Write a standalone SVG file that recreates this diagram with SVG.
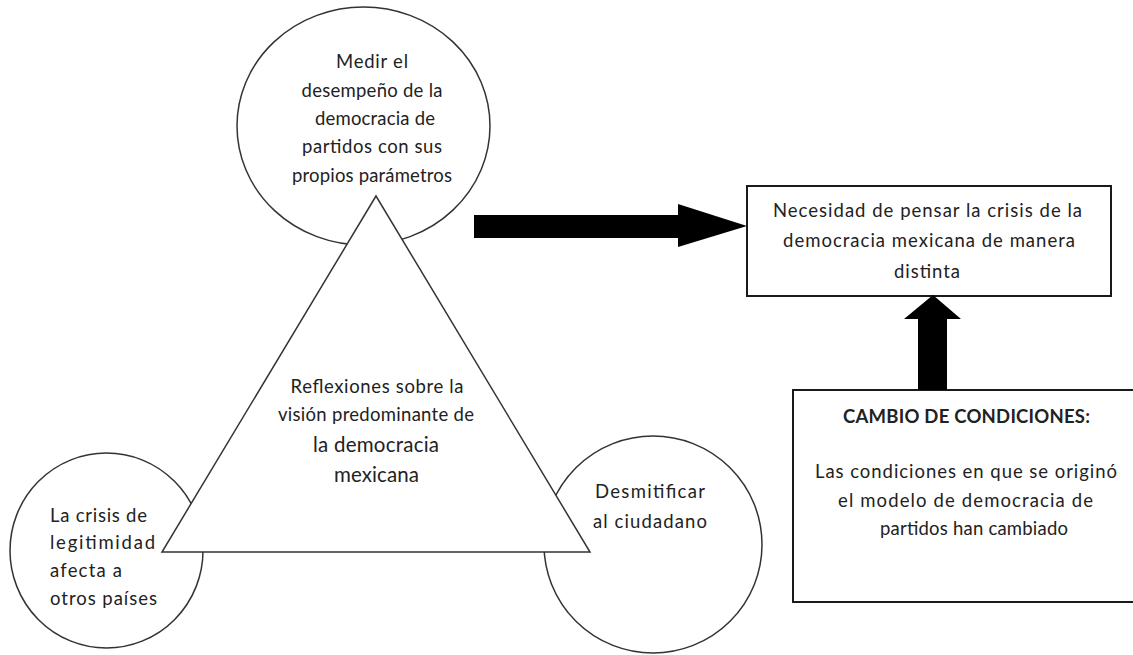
<svg xmlns="http://www.w3.org/2000/svg" width="1133" height="655" viewBox="0 0 1133 655">
  <style>
    .shape { fill: #ffffff; stroke: #333333; stroke-width: 1.5; }
    .box { fill: #ffffff; stroke: #1a1a1a; stroke-width: 2; }
    .arrow { fill: #000000; stroke: none; }
    text { font-family: Lato, "Open Sans", "Liberation Sans", sans-serif; font-size: 18.5px; fill: #222222; }
    .c { text-anchor: middle; }
    .big { font-size: 20.5px; }
    .bold { font-weight: bold; }
  </style>
  <rect x="0" y="0" width="1133" height="655" fill="#ffffff"/>

  <g id="node-medir">
    <ellipse class="shape" cx="363.5" cy="126" rx="126.5" ry="119"/>
    <text class="c" x="372" y="68" textLength="72" lengthAdjust="spacing">Medir el</text>
    <text class="c" x="372" y="97" textLength="141" lengthAdjust="spacing">desempeño de la</text>
    <text class="c" x="375" y="125" textLength="120" lengthAdjust="spacing">democracia de</text>
    <text class="c" x="372" y="153" textLength="140" lengthAdjust="spacing">partidos con sus</text>
    <text class="c" x="372" y="182" textLength="160" lengthAdjust="spacing">propios parámetros</text>
  </g>

  <g id="node-crisis">
    <ellipse class="shape" cx="106.5" cy="550.5" rx="96.5" ry="97.5"/>
    <text x="50" y="522" textLength="97" lengthAdjust="spacing">La crisis de</text>
    <text x="50" y="549" textLength="105" lengthAdjust="spacing">legitimidad</text>
    <text x="50" y="577" textLength="72" lengthAdjust="spacing">afecta a</text>
    <text x="50" y="605" textLength="107" lengthAdjust="spacing">otros países</text>
  </g>

  <g id="node-desmitificar">
    <ellipse class="shape" cx="653" cy="544.5" rx="109" ry="108.5"/>
    <text class="c" x="650" y="498" textLength="110" lengthAdjust="spacing">Desmitificar</text>
    <text class="c" x="650" y="528" textLength="114" lengthAdjust="spacing">al ciudadano</text>
  </g>

  <g id="node-reflexiones">
    <polygon class="shape" points="376,196 162,552 590,552"/>
    <text class="c" x="377" y="393" textLength="173" lengthAdjust="spacing">Reflexiones sobre la</text>
    <text class="c" x="376" y="421" textLength="196" lengthAdjust="spacing">visión predominante de</text>
    <text class="c big" x="376" y="452" textLength="126" lengthAdjust="spacing">la democracia</text>
    <text class="c big" x="376.5" y="482" textLength="85" lengthAdjust="spacing">mexicana</text>
  </g>

  <g id="node-necesidad">
    <rect class="box" x="747" y="186" width="364" height="110"/>
    <text class="c" x="927.5" y="217" textLength="309" lengthAdjust="spacing">Necesidad de pensar la crisis de la</text>
    <text class="c" x="929" y="247" textLength="292" lengthAdjust="spacing">democracia mexicana de manera</text>
    <text class="c" x="927" y="278" textLength="66" lengthAdjust="spacing">distinta</text>
  </g>

  <g id="node-cambio">
    <rect class="box" x="793" y="390" width="345" height="212"/>
    <text class="c bold" x="966.5" y="423" textLength="247" lengthAdjust="spacing">CAMBIO DE CONDICIONES:</text>
    <text class="c" x="966" y="478" textLength="302" lengthAdjust="spacing">Las condiciones en que se originó</text>
    <text class="c" x="965.5" y="507" textLength="255" lengthAdjust="spacing">el modelo de democracia de</text>
    <text class="c" x="974" y="535" textLength="188" lengthAdjust="spacing">partidos han cambiado</text>
  </g>

  <g id="connectors">
    <polygon class="arrow" points="474,215 678,215 678,204 747,226 678,247 678,238 474,238"/>
    <polygon class="arrow" points="918,390 918,319 904,319 933,295 961,319 947,319 947,390"/>
  </g>
</svg>
